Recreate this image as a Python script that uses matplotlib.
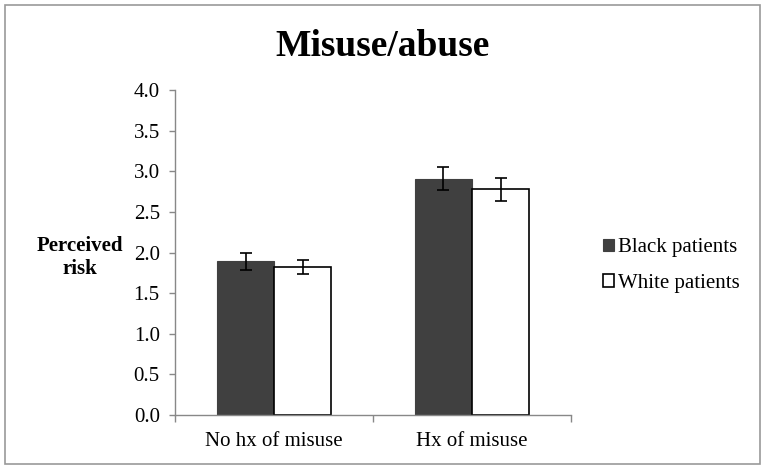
import matplotlib
matplotlib.use("Agg")
import matplotlib.pyplot as plt
import numpy as np
from matplotlib.patches import Rectangle

categories = ["No hx of misuse", "Hx of misuse"]
series_names = ["Black patients", "White patients"]
black_vals = [1.89, 2.91]
black_err = [0.10, 0.14]
white_vals = [1.82, 2.78]
white_err = [0.09, 0.14]
yticks = [0.0, 0.5, 1.0, 1.5, 2.0, 2.5, 3.0, 3.5, 4.0]

plt.rcParams['font.family'] = ['Liberation Serif', 'DejaVu Serif']

fig = plt.figure(figsize=(7.65, 4.69), dpi=100)
ax = fig.add_axes([0.2288, 0.1151, 0.5176, 0.693])

x = np.arange(len(categories))
w = 0.288
gray = "#404040"
ax.bar(x - w/2, black_vals, w, color=gray, edgecolor=gray, linewidth=0.8,
       yerr=black_err, capsize=4, error_kw=dict(ecolor='black', elinewidth=1.2, capthick=1.2),
       label=series_names[0])
ax.bar(x + w/2, white_vals, w, color='white', edgecolor='black', linewidth=1.2,
       yerr=white_err, capsize=4, error_kw=dict(ecolor='black', elinewidth=1.2, capthick=1.2),
       label=series_names[1])

ax.set_xlim(-0.5, 1.5)
ax.set_ylim(0, 4.0)
ax.set_yticks(yticks)
ax.set_yticklabels([f"{v:.1f}" for v in yticks], fontsize=15)
ax.set_xticks(x)
ax.set_xticklabels(categories, fontsize=15)
ax.set_xticks([-0.5, 0.5, 1.5], minor=True)
ax.tick_params(axis='x', which='major', length=0, pad=12)
ax.tick_params(axis='x', which='minor', length=5, color='#888888', width=1)
ax.tick_params(axis='y', length=4, color='#888888', width=1, pad=7)
for s in ['top', 'right']:
    ax.spines[s].set_visible(False)
for s in ['left', 'bottom']:
    ax.spines[s].set_color('#888888')
    ax.spines[s].set_linewidth(1)

fig.text(0.5, 0.9, "Misuse/abuse", ha='center', va='center', fontsize=27, fontweight='bold')
fig.text(0.105, 0.452, "Perceived\nrisk", ha='center', va='center', fontsize=15,
         fontweight='bold', linespacing=1.2)

leg = ax.legend(loc='center left', bbox_to_anchor=(1.059, 0.46), frameon=False, fontsize=15,
                handlelength=0.53, handleheight=0.53, handletextpad=0.2, labelspacing=0.8,
                borderaxespad=0)

fig.patches.append(Rectangle((0.007, 0.01), 0.986, 0.98, transform=fig.transFigure,
                             fill=False, edgecolor='#999999', linewidth=1.2))

fig.savefig("out.png", dpi=100)
